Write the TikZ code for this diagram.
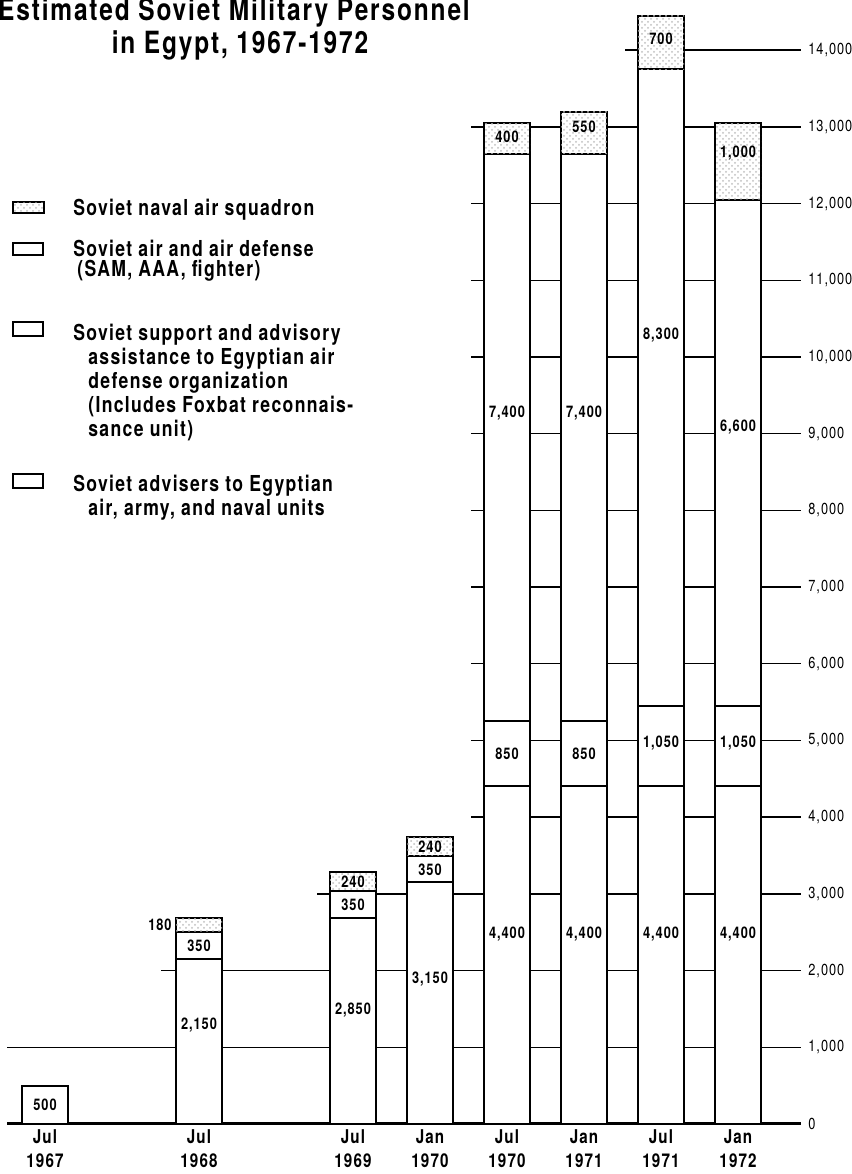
\documentclass[tikz,border=0pt]{standalone}
\usepackage{fontspec}
\usepackage{tikz}
\usetikzlibrary{patterns}
\newfontfamily\chartfont{TeX Gyre Heros}[FakeStretch=0.8,LetterSpace=6]

\tikzset{
  gridline/.style={line width=0.7pt},
  seg/.style={draw, line width=1pt, fill=white},
  naval/.style={seg, postaction={pattern=crosshatch dots, pattern color=black!25}},
  val/.style={inner sep=0pt, font=\chartfont\fontsize{8}{9}\selectfont\bfseries},
  tick/.style={inner sep=0pt, anchor=west, font=\chartfont\fontsize{8}{9}\selectfont},
  date/.style={inner sep=0pt, anchor=north, align=center, font=\chartfont\fontsize{9.5}{12}\selectfont\bfseries},
  legend/.style={inner sep=0pt, anchor=north west, align=left, font=\chartfont\fontsize{11}{12}\selectfont\bfseries},
  heading/.style={inner sep=0pt, anchor=base, font=\chartfont\fontsize{15.3}{16}\selectfont\bfseries}
}

\begin{document}
\begin{tikzpicture}[x=0.5pt, y=38.35pt]
  \useasboundingbox (0,-0.652) rectangle (851,14.654);

  % title
  \node[heading] (title1) at (234,14.38) {Estimated Soviet Military Personnel};
  \node[heading] (title2) at (240,13.95) {in Egypt, 1967-1972};

  % legend
  \draw[naval] (13,12.02) rectangle (44,11.88);
  \draw[seg] (13,11.49) rectangle (43,11.33);
  \draw[seg] (13,10.46) rectangle (43,10.27);
  \draw[seg] (13,8.47) rectangle (43,8.29);
  \node[legend] (leg1) at (73,12.06) {Soviet naval air squadron};
  \node[legend, font=\chartfont\fontsize{11}{10}\selectfont\bfseries] (leg2) at (73,11.53) {Soviet air and air defense\\\hspace*{2pt}(SAM, AAA, fighter)};
  \node[legend] (leg3) at (73,10.43) {Soviet support and advisory\\\hspace*{7.5pt}assistance to Egyptian air\\\hspace*{7.5pt}defense organization\\\hspace*{7.5pt}(Includes Foxbat reconnais-\\\hspace*{7.5pt}sance unit)};
  \node[legend] (leg4) at (73,8.46) {Soviet advisers to Egyptian\\\hspace*{7.5pt}air, army, and naval units};

  % grid lines, bars are drawn over them
  \foreach \v/\xs in {1/7,2/161,3/317,4/471,5/471,6/471,7/471,8/471,9/471,10/471,11/471,12/471,13/471,14/625}{
    \draw[gridline] (\xs,\v) -- (801,\v);
    \node[tick] (t\v) at (808,\v) {\v,000};
  }
  \draw[line width=1.5pt] (7,0) -- (801,0);
  \node[tick] (t0) at (808,0) {0};

  % bars
  \draw[seg] (22,0) rectangle (68,0.5);
  \foreach \c/\a/\b/\t in {199/2.15/2.5/2.68, 353/2.68/3.04/3.28, 430/3.15/3.5/3.74}{
    \draw[seg] (\c-23,0) rectangle (\c+23,\a);
    \draw[seg] (\c-23,\a) rectangle (\c+23,\b);
    \draw[naval] (\c-23,\b) rectangle (\c+23,\t);
  }
  \foreach \c/\a/\b/\d/\t in {507/4.4/5.25/12.65/13.05, 584/4.4/5.25/12.65/13.2, 661/4.4/5.45/13.75/14.45, 738/4.4/5.45/12.05/13.05}{
    \draw[seg] (\c-23,0) rectangle (\c+23,\a);
    \draw[seg] (\c-23,\a) rectangle (\c+23,\b);
    \draw[seg] (\c-23,\b) rectangle (\c+23,\d);
    \draw[naval] (\c-23,\d) rectangle (\c+23,\t);
  }

  % values
  \node[val] (v67) at (45,0.25) {500};
  \node[val] (v68a) at (199,1.29) {2,150};
  \node[val] (v68b) at (199,2.325) {350};
  \node[val, anchor=east] (v68c) at (172,2.6) {180};
  \node[val] (v69a) at (353,1.49) {2,850};
  \node[val] (v69b) at (353,2.86) {350};
  \node[val] (v69c) at (353,3.16) {240};
  \node[val] (v70a) at (430,1.89) {3,150};
  \node[val] (v70b) at (430,3.32) {350};
  \node[val] (v70c) at (430,3.62) {240};
  \node[val] (v71a) at (507,2.47) {4,400};
  \node[val] (v71b) at (507,4.825) {850};
  \node[val] (v71c) at (507,9.27) {7,400};
  \node[val] (v71d) at (507,12.87) {400};
  \node[val] (v72a) at (584,2.47) {4,400};
  \node[val] (v72b) at (584,4.825) {850};
  \node[val] (v72c) at (584,9.27) {7,400};
  \node[val] (v72d) at (584,13.0) {550};
  \node[val] (v73a) at (661,2.47) {4,400};
  \node[val] (v73b) at (661,4.97) {1,050};
  \node[val] (v73c) at (661,10.29) {8,300};
  \node[val] (v73d) at (661,14.15) {700};
  \node[val] (v74a) at (738,2.47) {4,400};
  \node[val] (v74b) at (738,4.97) {1,050};
  \node[val] (v74c) at (738,9.08) {6,600};
  \node[val] (v74d) at (738,12.66) {1,000};

  % dates
  \foreach \c/\m/\y in {45/Jul/1967, 199/Jul/1968, 353/Jul/1969, 430/Jan/1970, 507/Jul/1970, 584/Jan/1971, 661/Jul/1971, 738/Jan/1972}{
    \node[date] (d\y\m) at (\c,-0.065) {\m\\\y};
  }
\end{tikzpicture}
\end{document}
